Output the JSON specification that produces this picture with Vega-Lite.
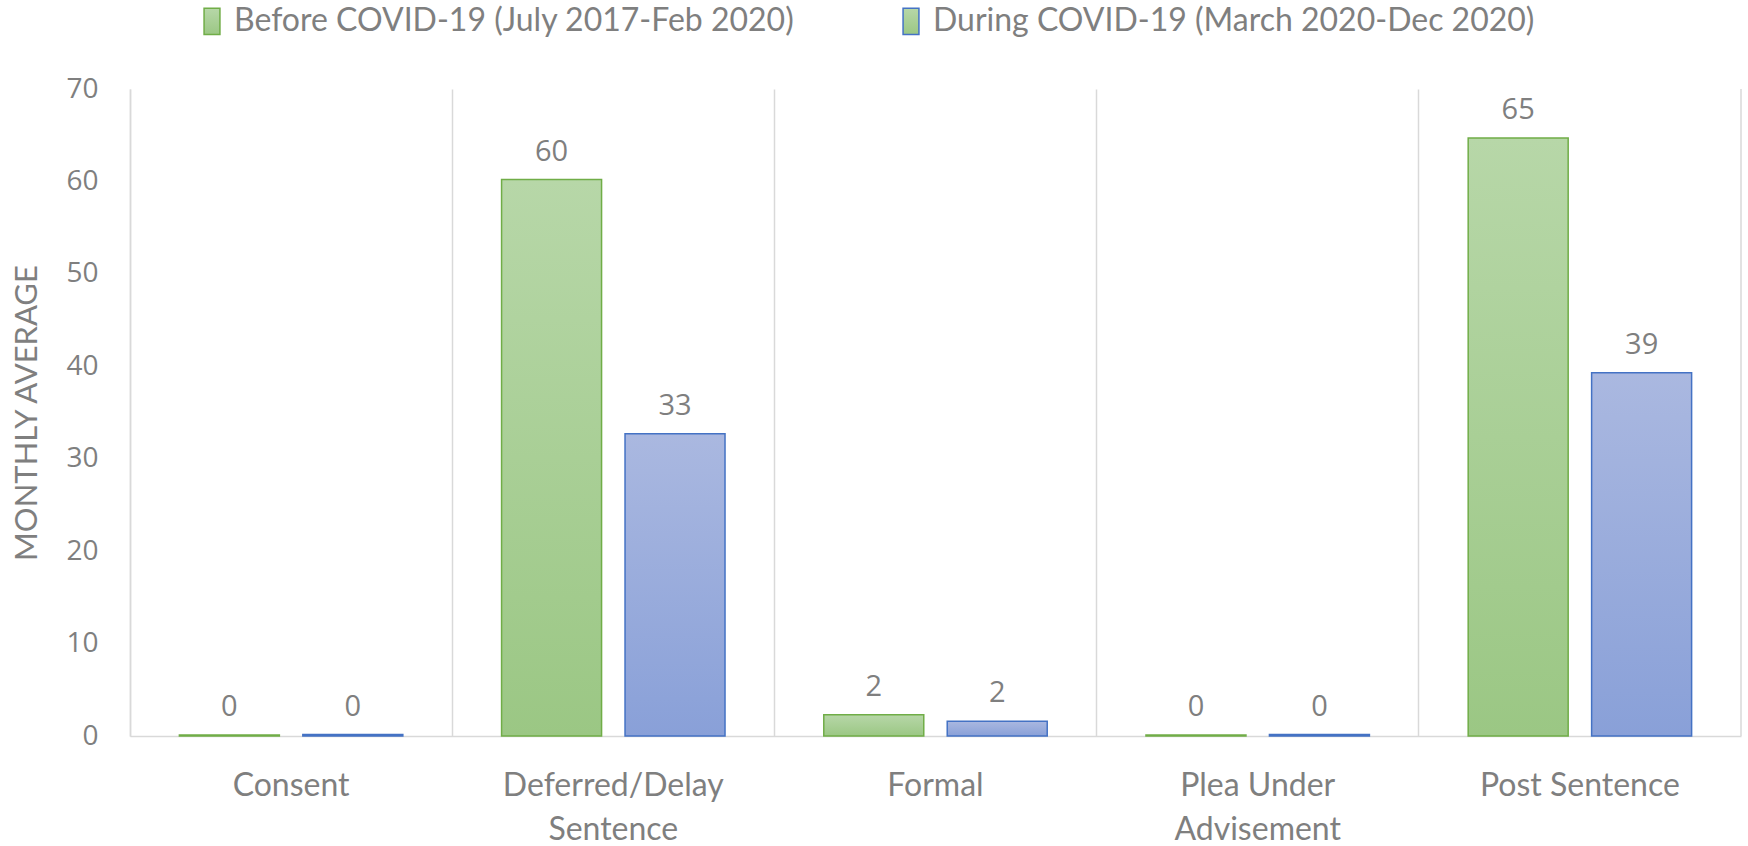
{
  "$schema": "https://vega.github.io/schema/vega-lite/v6.json",
  "width": 1611,
  "height": 647,
  "autosize": {"type": "none"},
  "padding": {"left": 130, "top": 89, "right": 7, "bottom": 110},
  "background": "white",
  "config": {
    "view": {"stroke": null},
    "font": "Lato",
    "text": {"font": "Lato"}
  },
  "data": {
    "values": [
      {"category": "Consent", "period": "Before COVID-19 (July 2017-Feb 2020)", "value": 0.1},
      {"category": "Consent", "period": "During COVID-19 (March 2020-Dec 2020)", "value": 0.15},
      {"category": "Deferred/Delay Sentence", "period": "Before COVID-19 (July 2017-Feb 2020)", "value": 60.2},
      {"category": "Deferred/Delay Sentence", "period": "During COVID-19 (March 2020-Dec 2020)", "value": 32.7},
      {"category": "Formal", "period": "Before COVID-19 (July 2017-Feb 2020)", "value": 2.3},
      {"category": "Formal", "period": "During COVID-19 (March 2020-Dec 2020)", "value": 1.6},
      {"category": "Plea Under Advisement", "period": "Before COVID-19 (July 2017-Feb 2020)", "value": 0.1},
      {"category": "Plea Under Advisement", "period": "During COVID-19 (March 2020-Dec 2020)", "value": 0.15},
      {"category": "Post Sentence", "period": "Before COVID-19 (July 2017-Feb 2020)", "value": 64.7},
      {"category": "Post Sentence", "period": "During COVID-19 (March 2020-Dec 2020)", "value": 39.3}
    ]
  },
  "encoding": {
    "x": {
      "field": "category",
      "type": "nominal",
      "sort": null,
      "scale": {"paddingInner": 0, "paddingOuter": 0},
      "axis": {
        "title": null,
        "labelAngle": 0,
        "bandPosition": 0,
        "grid": true,
        "gridColor": "#d9d9d9",
        "gridWidth": 1.5,
        "domainColor": "#d9d9d9",
        "domainWidth": 1.5,
        "ticks": false,
        "labelFont": "Lato",
        "labelFontSize": 32,
        "labelColor": "#7f7f7f",
        "labelPadding": 34,
        "labelLineHeight": 44,
        "labelLimit": 600,
        "labelExpr": "datum.label == 'Deferred/Delay Sentence' ? ['Deferred/Delay', 'Sentence'] : datum.label == 'Plea Under Advisement' ? ['Plea Under', 'Advisement'] : datum.label"
      }
    },
    "xOffset": {
      "field": "period",
      "type": "nominal",
      "scale": {"paddingInner": 0.19, "paddingOuter": 0.4}
    },
    "y": {
      "field": "value",
      "type": "quantitative",
      "scale": {"domain": [0, 70], "nice": false},
      "axis": {
        "title": "MONTHLY AVERAGE",
        "titleFont": "Lato",
        "titleFontSize": 31,
        "titleFontWeight": "normal",
        "titleColor": "#7f7f7f",
        "titlePadding": 22,
        "values": [0, 10, 20, 30, 40, 50, 60, 70],
        "grid": false,
        "ticks": false,
        "domainColor": "#d9d9d9",
        "domainWidth": 1.5,
        "labelFont": "Open Sans",
        "labelFontSize": 28,
        "labelColor": "#7f7f7f",
        "labelPadding": 32
      }
    }
  },
  "layer": [
    {
      "transform": [{"filter": "datum.period == 'Before COVID-19 (July 2017-Feb 2020)'"}],
      "mark": {
        "type": "bar",
        "strokeWidth": 1.5,
        "fill": {"gradient": "linear", "x1": 0, "y1": 0, "x2": 0, "y2": 1, "stops": [{"offset": 0, "color": "#b7d7a8"}, {"offset": 1, "color": "#9bc784"}]}
      },
      "encoding": {
        "stroke": {
          "field": "period",
          "type": "nominal",
          "scale": {
            "domain": ["Before COVID-19 (July 2017-Feb 2020)", "During COVID-19 (March 2020-Dec 2020)"],
            "range": ["#70ad47", "#4472c4"]
          },
          "legend": {
            "title": null,
            "orient": "none",
            "direction": "horizontal",
            "legendX": 66,
            "legendY": -84,
            "symbolType": "M-0.6,-1H0.6V1H-0.6Z",
            "symbolSize": 700,
            "symbolStrokeWidth": 1.5,
            "labelFont": "Lato",
            "labelFontSize": 32,
            "labelColor": "#7f7f7f",
            "labelOffset": 6,
            "labelLimit": 800,
            "columnPadding": 100,
            "encode": {
              "symbols": {
                "update": {
                  "fill": [
                    {"test": "datum.value === 'Before COVID-19 (July 2017-Feb 2020)'", "value": "#a9cf96"},
                    {"value": "#99abdc"}
                  ],
                  "fillOpacity": {"value": 1}
                }
              }
            }
          }
        }
      }
    },
    {
      "transform": [{"filter": "datum.period == 'During COVID-19 (March 2020-Dec 2020)'"}],
      "mark": {
        "type": "bar",
        "strokeWidth": 1.5,
        "fill": {"gradient": "linear", "x1": 0, "y1": 0, "x2": 0, "y2": 1, "stops": [{"offset": 0, "color": "#aab8e0"}, {"offset": 1, "color": "#89a0d8"}]}
      },
      "encoding": {
        "stroke": {"field": "period", "type": "nominal"}
      }
    },
    {
      "mark": {"type": "text", "baseline": "bottom", "dy": -13, "font": "Open Sans", "fontSize": 29, "color": "#7f7f7f"},
      "encoding": {
        "text": {"field": "value", "type": "quantitative", "format": ".0f"}
      }
    },
    {
      "transform": [{"filter": "datum.category == 'Post Sentence' && datum.period == 'Before COVID-19 (July 2017-Feb 2020)'"}],
      "mark": {"type": "rule", "color": "#d9d9d9", "strokeWidth": 1.5},
      "encoding": {
        "x": {"field": "category", "type": "nominal", "sort": null, "bandPosition": 1},
        "xOffset": null,
        "y": null
      }
    }
  ]
}
